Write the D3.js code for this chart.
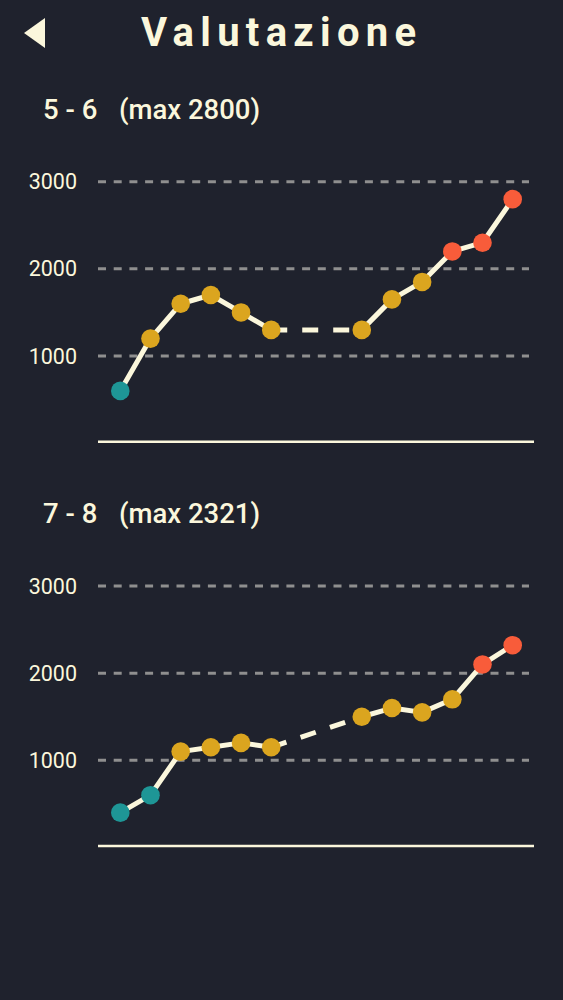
<!DOCTYPE html>
<html>
<head>
<meta charset="utf-8">
<script src="https://cdn.jsdelivr.net/npm/d3@7"></script>
<style>
  html, body { margin: 0; padding: 0; background: #1f222d; }
  svg { display: block; font-family: Roboto, "Noto Sans", sans-serif; }
</style>
</head>
<body>
<svg id="chart" width="563" height="1000"></svg>
<script>
//  data
const groups = ["5 - 6", "7 - 8"];
const maxLabels = ["(max 2800)", "(max 2321)"];
const slots = d3.range(14);
const values_56 = [600, 1200, 1600, 1700, 1500, 1300, null, null, 1300, 1650, 1850, 2200, 2300, 2800];
const values_78 = [400, 600, 1100, 1150, 1200, 1150, null, null, 1500, 1600, 1550, 1700, 2100, 2321];
const yTicks = [1000, 2000, 3000];

const cream = "#fbf7dc";

function point_color(v) {
  if (v < 1000) return "#1e9696";
  if (v < 2000) return "#dba51f";
  return "#f85c3a";
}

//  draw one panel
function draw_panel(g, label, maxLabel, values) {
  const x = d3.scalePoint().domain(slots).range([120.3, 512.7]);
  const y = d3.scaleLinear().domain([0, 3000]).range([443.2, 181.7]);
  const data = slots.map(i => ({i: i, v: values[i]}));

  g.append("text")
      .attr("x", 43).attr("y", 119)
      .attr("fill", cream).attr("font-size", 27.5).attr("font-weight", 500)
      .text(label);
  g.append("text")
      .attr("x", 119).attr("y", 119)
      .attr("fill", cream).attr("font-size", 27.5).attr("font-weight", 500)
      .text(maxLabel);

  // grid
  g.selectAll(".grid").data(yTicks).join("line")
      .attr("x1", 98).attr("x2", 529)
      .attr("y1", d => y(d)).attr("y2", d => y(d))
      .attr("stroke", "#8f8f8f").attr("stroke-width", 3)
      .attr("stroke-dasharray", "8,7.7");

  g.selectAll(".tick").data(yTicks).join("text")
      .attr("x", 77).attr("y", d => y(d))
      .attr("text-anchor", "end").attr("dy", "0.35em")
      .attr("fill", cream).attr("font-size", 21.5)
      .text(d => d);

  // baseline
  g.append("line")
      .attr("x1", 98).attr("x2", 534)
      .attr("y1", y(0) - 1.5).attr("y2", y(0) - 1.5)
      .attr("stroke", cream).attr("stroke-width", 2.5);

  // dashed bridges over missing slots
  const defined = data.filter(d => d.v != null);
  for (let k = 1; k < defined.length; k++) {
    const a = defined[k - 1], b = defined[k];
    if (b.i - a.i > 1) {
      g.append("path")
          .datum([a, b])
          .attr("fill", "none").attr("stroke", cream).attr("stroke-width", 5)
          .attr("stroke-dasharray", "16,15")
          .attr("d", d3.line().x(d => x(d.i)).y(d => y(d.v)));
    }
  }

  g.append("path")
      .datum(data)
      .attr("fill", "none").attr("stroke", cream).attr("stroke-width", 5)
      .attr("stroke-linejoin", "round")
      .attr("d", d3.line().defined(d => d.v != null).x(d => x(d.i)).y(d => y(d.v)));

  g.selectAll(".pt").data(defined).join("circle")
      .attr("cx", d => x(d.i)).attr("cy", d => y(d.v))
      .attr("r", 9.3)
      .attr("fill", d => point_color(d.v));
}

//  main
const svg = d3.select("#chart");

svg.append("path")
    .attr("d", "M45,18 L45,48 L24,33 Z")
    .attr("fill", cream);

svg.append("text")
    .attr("x", 141).attr("y", 46)
    .attr("fill", cream).attr("font-size", 40).attr("font-weight", 700)
    .attr("letter-spacing", 6.3)
    .text("Valutazione");

const seriesList = [values_56, values_78];
groups.forEach((label, k) => {
  const g = svg.append("g").attr("transform", `translate(0,${k * 404.3})`);
  draw_panel(g, label, maxLabels[k], seriesList[k]);
});
</script>
</body>
</html>
